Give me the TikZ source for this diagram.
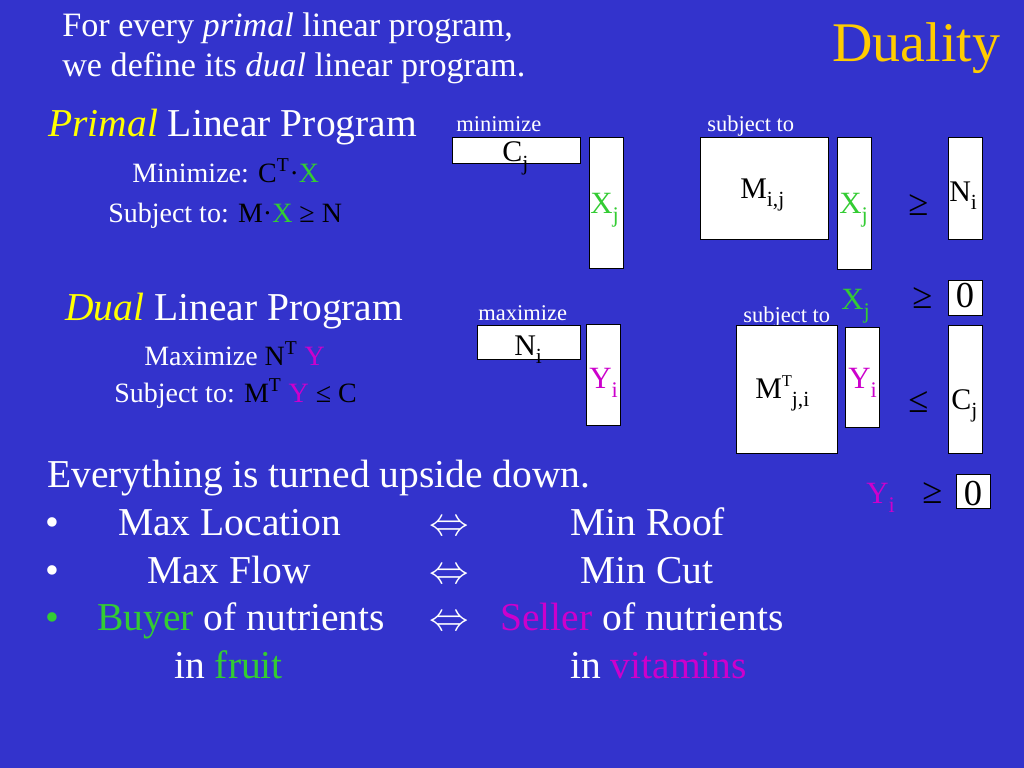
\RequirePackage{fix-cm}
\documentclass[tikz,border=0pt]{standalone}
\usepackage{fontspec}
\setmainfont{Liberation Serif}
\definecolor{slide}{RGB}{51,51,204}
\definecolor{xgreen}{RGB}{51,204,51}
\definecolor{ymag}{RGB}{204,0,204}
\definecolor{ttl}{RGB}{255,204,0}
\definecolor{hl}{RGB}{255,255,0}
\makeatletter
\newcommand\lo[1]{\raisebox{-0.3em}{\fontsize{\fpeval{0.72*\f@size}}{0}\selectfont #1}}
\newcommand\hi[1]{\raisebox{0.37em}{\fontsize{\fpeval{0.55*\f@size}}{0}\selectfont #1}}
\makeatother
\tikzset{
  txt/.style={anchor=base west, inner sep=0pt, text=white},
  head/.style={txt, font=\fontsize{24.3}{29}\selectfont},
  big/.style={txt, font=\fontsize{28.1}{34}\selectfont},
  mid/.style={txt, font=\fontsize{19.9}{24}\selectfont},
  small/.style={txt, font=\fontsize{16}{19}\selectfont},
  entry/.style={txt, text=black, font=\fontsize{21.3}{25}\selectfont},
  var/.style={txt, font=\fontsize{22}{27}\selectfont},
  rel/.style={txt, text=black, font=\fontsize{26}{30}\selectfont},
  vec/.style={draw=black, fill=white, line width=0.6pt},
}

\begin{document}
\begin{tikzpicture}[x=0.025cm, y=-0.025cm]
\fill[slide] (0,0) rectangle (1024,768);
% heading
\node[head] (intro1) at (62,37) {For every \textit{primal} linear program,};
\node[head] (intro2) at (62,77) {we define its \textit{dual} linear program.};
\node[txt, text=ttl, font=\fontsize{39.8}{46}\selectfont] (title) at (832,62) {Duality};
% the two programs
\node[big] (primal) at (48,137) {\textcolor{hl}{\textit{Primal}} Linear Program};
\node[mid] (pobj) at (132,182) {Minimize: \textcolor{black}{C\textsuperscript{T}·}\textcolor{xgreen}{X}};
\node[mid] (pcon) at (108,222) {Subject to: \textcolor{black}{M·}\textcolor{xgreen}{X} \textcolor{black}{≥ N}};
\node[big] (dual) at (65,320) {\textcolor{hl}{\textit{Dual}} Linear Program};
\node[mid] (dobj) at (144,365) {Maximize \textcolor{black}{N\textsuperscript{T}} \textcolor{ymag}{Y}};
\node[mid] (dcon) at (114,402) {Subject to: \textcolor{black}{M\textsuperscript{T}} \textcolor{ymag}{Y} \textcolor{black}{≤ C}};
% labels over the matrices
\node[small] (pmin) at (456,132) {minimize};
\node[small] (psub) at (707,132) {subject to};
\node[small] (dmax) at (478,320) {maximize};
\node[small] (dsub) at (743,322) {subject to};
% primal matrices
\path[vec] (452,137) rectangle (580,163);
\path[vec] (589,137) rectangle (623,268);
\path[vec] (700,137) rectangle (828,239);
\path[vec] (837,137) rectangle (871,269);
\path[vec] (948,137) rectangle (982,239);
\path[vec] (948,280) rectangle (982,315);
\node[entry] (pc) at (502,162) {C\lo{j}};
\node[var, text=xgreen] (px1) at (590,213) {X\lo{j}};
\node[entry] (pm) at (740,198) {M\lo{i,j}};
\node[var, text=xgreen] (px2) at (839,213) {X\lo{j}};
\node[rel] (pge) at (908,215) {≥};
\node[entry] (pn) at (949,201) {N\lo{i}};
\node[var, text=xgreen] (px3) at (841,309) {X\lo{j}};
\node[rel] (pge0) at (912,308) {≥};
\node[rel, anchor=base] (pzero) at (965,307) {0};
% dual matrices
\path[vec] (477,325) rectangle (580,359);
\path[vec] (586,324) rectangle (620,425);
\path[vec] (736,325) rectangle (837,453);
\path[vec] (845,327) rectangle (879,427);
\path[vec] (948,325) rectangle (982,453);
\path[vec] (956,474) rectangle (990,508);
\node[entry] (dn) at (514,355) {N\lo{i}};
\node[var, text=ymag] (dy1) at (589,388) {Y\lo{i}};
\node[entry] (dm) at (755,398) {M\hi{T}\lo{j,i}};
\node[var, text=ymag] (dy2) at (848,388) {Y\lo{i}};
\node[rel] (dle) at (908,412) {≤};
\node[entry] (dc) at (951,409) {C\lo{j}};
\node[var, text=ymag] (dy3) at (866,503) {Y\lo{i}};
\node[rel] (dge0) at (922,503) {≥};
\node[rel, anchor=base] (dzero) at (973,505) {0};
% everything upside down
\node[big] (flip) at (47,487) {Everything is turned upside down.};
\foreach \y/\c in {535/white, 583/white, 630/xgreen} {
  \node[big, anchor=base, text=\c] (bul\y) at (52,\y) {•};
  \node[big, anchor=base] (iff\y) at (449,\y) {$\Leftrightarrow$};
}
\node[big] (l1) at (118,535) {Max Location};
\node[big] (r1) at (570,535) {Min Roof};
\node[big] (l2) at (147,583) {Max Flow};
\node[big] (r2) at (580,583) {Min Cut};
\node[big] (l3) at (97,630) {\textcolor{xgreen}{Buyer} of nutrients};
\node[big] (r3) at (500,630) {\textcolor{ymag}{Seller} of nutrients};
\node[big] (l4) at (174,678) {in \textcolor{xgreen}{fruit}};
\node[big] (r4) at (570,678) {in \textcolor{ymag}{vitamins}};
\end{tikzpicture}
\end{document}
